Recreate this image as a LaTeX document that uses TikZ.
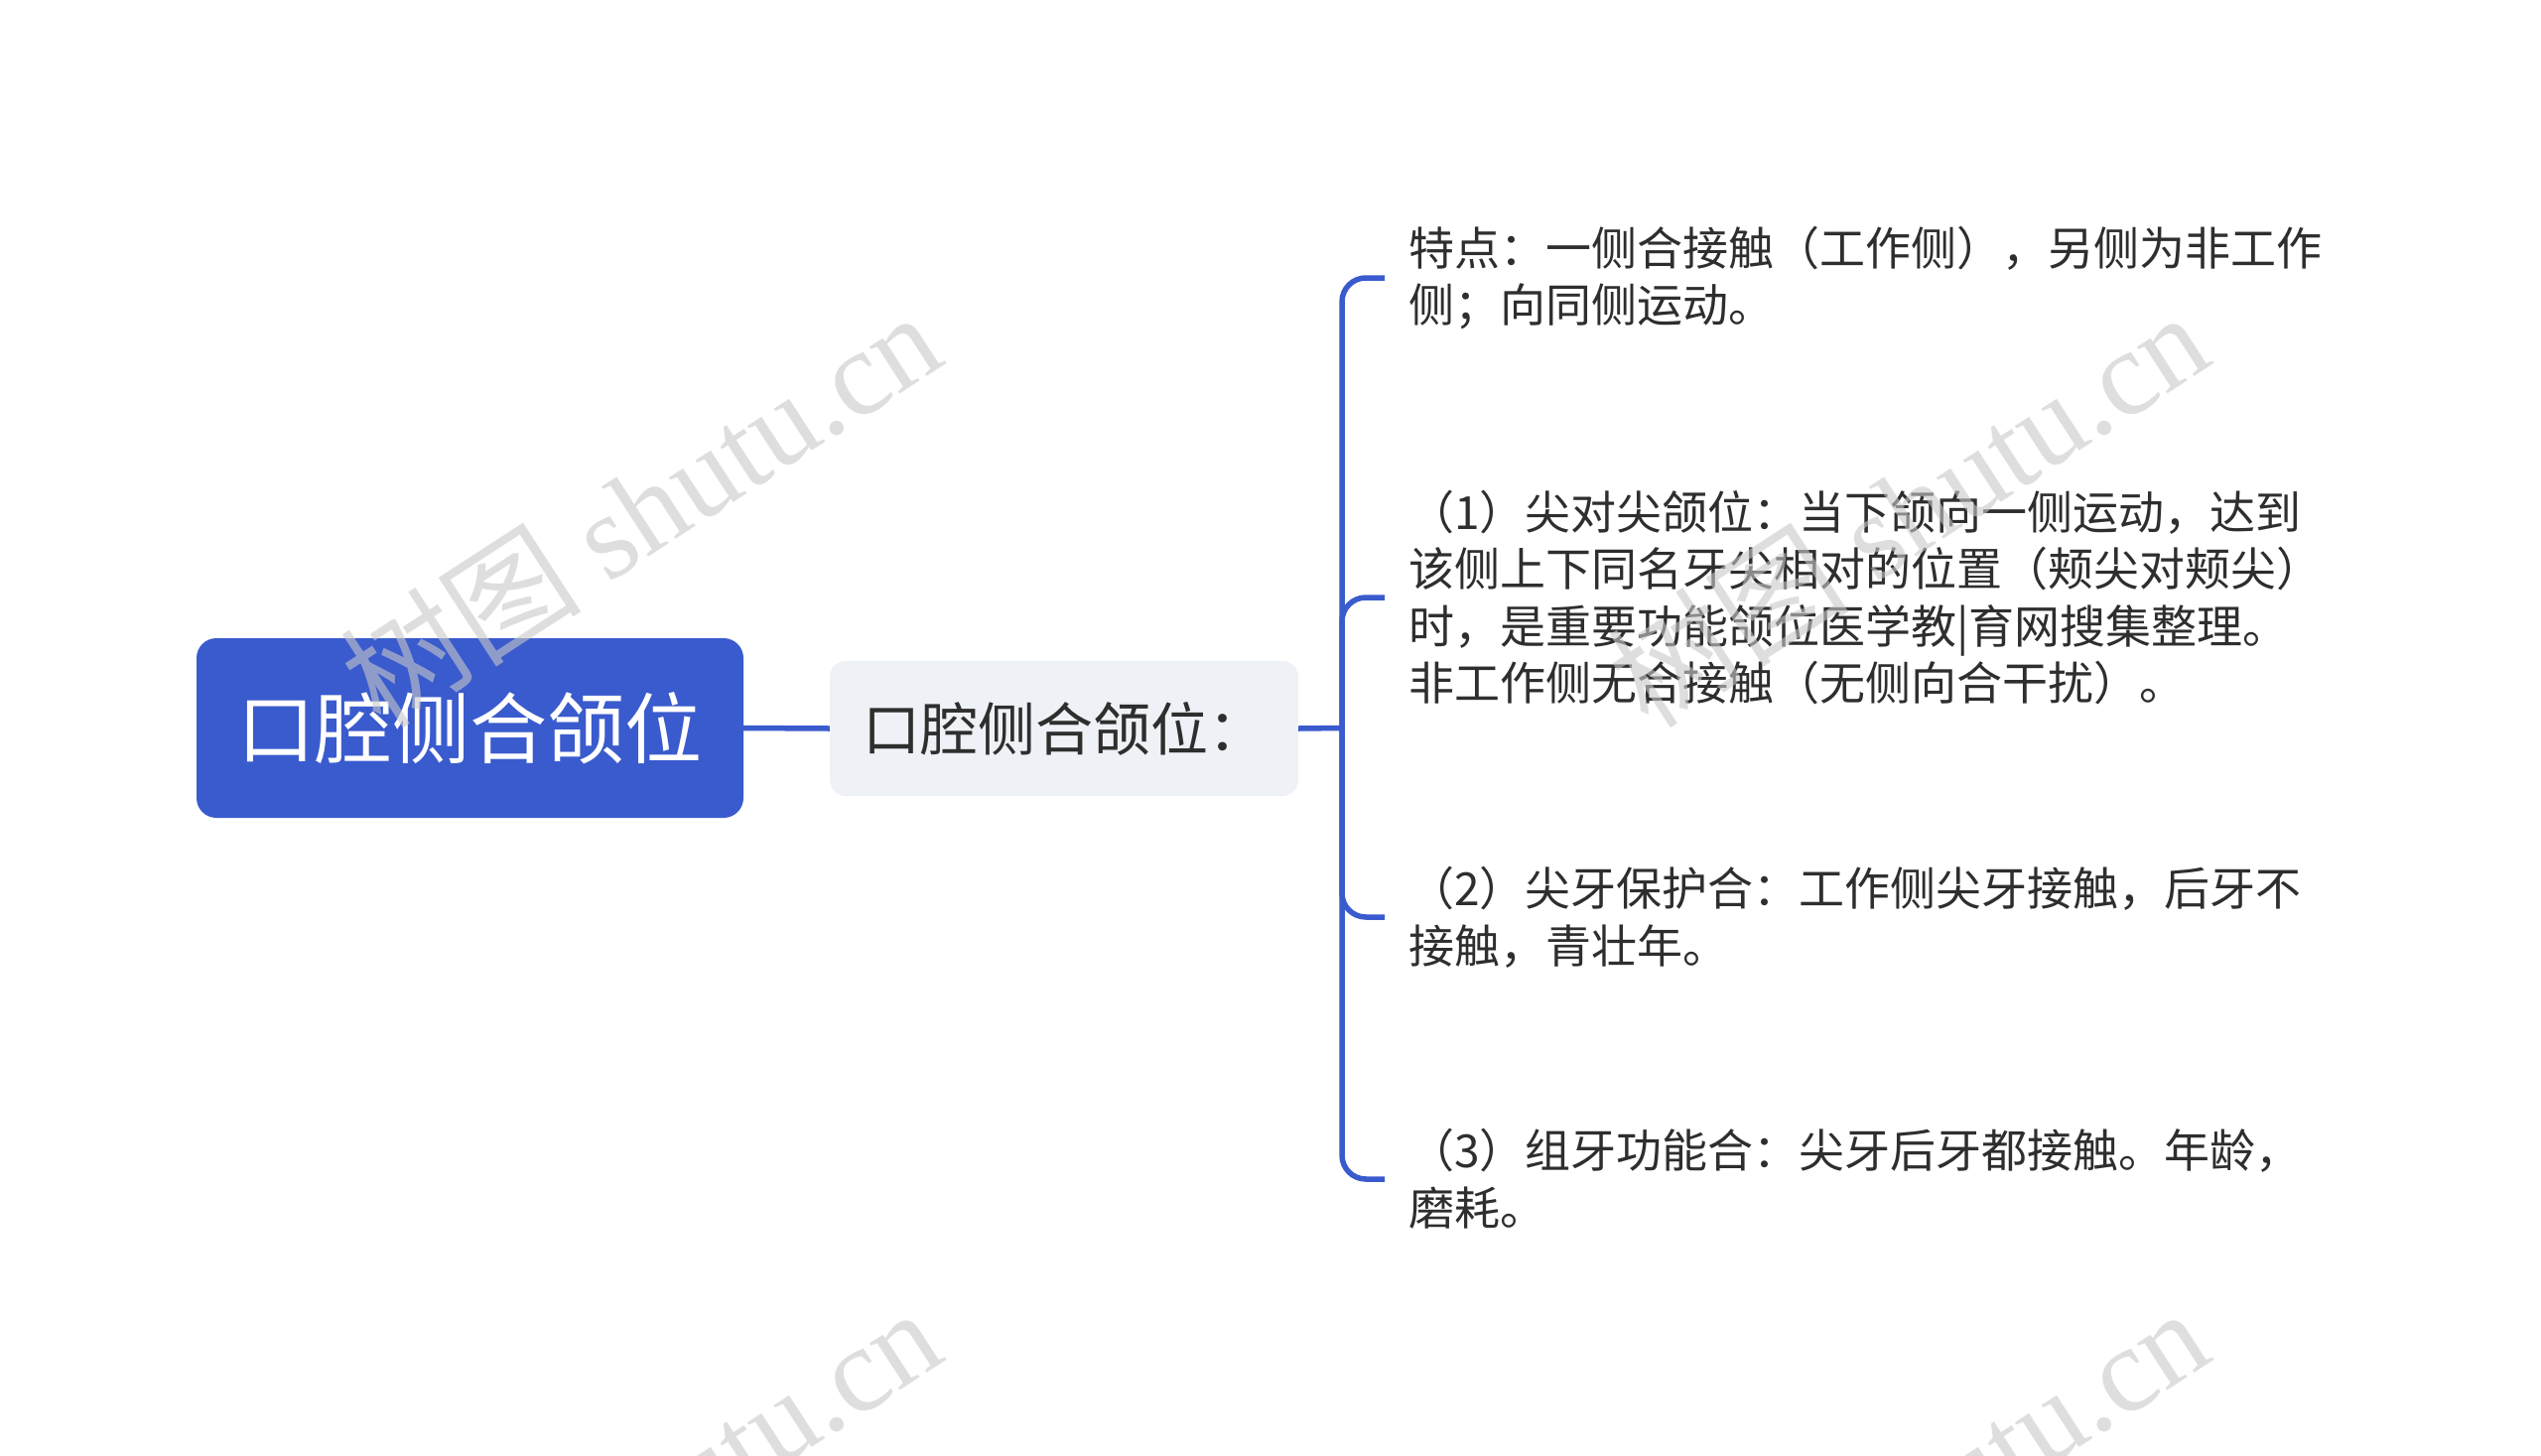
\documentclass[tikz,border=0pt]{standalone}
\usepackage{fontspec}
\setmainfont{Noto Sans CJK SC}
\newfontfamily\wmlatin{Liberation Serif}
\newfontfamily\wmcjk{Noto Sans CJK SC}
\definecolor{mainblue}{HTML}{3A5BCD}
\definecolor{subfill}{HTML}{EEF1F5}
\definecolor{txt}{HTML}{2E2E2E}
\definecolor{wm}{HTML}{C8C8C8}
\tikzset{
  rootbox/.style={fill=mainblue, rounded corners=20pt, text=white, inner sep=0pt,
    minimum width=551pt, minimum height=181pt, font=\fontsize{78pt}{94pt}\selectfont},
  subbox/.style={fill=subfill, rounded corners=16pt, text=txt, inner sep=0pt,
    minimum width=472pt, minimum height=136pt, font=\fontsize{58pt}{70pt}\selectfont},
  leaf/.style={anchor=west, inner xsep=24pt, inner ysep=0pt, align=left, text=txt,
    font=\fontsize{46pt}{57.6pt}\selectfont},
  conn/.style={draw=mainblue, line width=5.5pt},
  branch/.style={conn, rounded corners=24pt},
  wmark/.style={text=wm, opacity=0.6, rotate=33, inner sep=0pt,
    font=\fontsize{122pt}{130pt}\selectfont}
}
\begin{document}
\begin{tikzpicture}[x=1pt,y=-1pt]
\useasboundingbox (0,0) rectangle (2560,1467);
\fill[white] (0,0) rectangle (2560,1467);

\node[rootbox] (root) at (473.5,733.5) {口腔侧合颌位};
\node[subbox] (sub) at (1072,734) {口腔侧合颌位：};
\coordinate (j) at (1352,733.5);

\node[leaf] (c1) at (1395,280) {特点：一侧合接触（工作侧），另侧为非工作\\侧；向同侧运动。};
\node[leaf] (c2) at (1395,602) {（1）尖对尖颌位：当下颌向一侧运动，达到\\该侧上下同名牙尖相对的位置（颊尖对颊尖）\\时，是重要功能颌位医学教|育网搜集整理。\\非工作侧无合接触（无侧向合干扰）。};
\node[leaf] (c3) at (1395,924) {（2）尖牙保护合：工作侧尖牙接触，后牙不\\接触，青壮年。};
\node[leaf] (c4) at (1395,1188) {（3）组牙功能合：尖牙后牙都接触。年龄，\\磨耗。};

\draw[conn] (root.east) -- (sub.west);
\draw[conn] (sub.east) -- (j);
\draw[branch] (j) |- (c1.west);
\draw[branch] (j) |- (c2.west);
\draw[branch] (j) |- (c3.west);
\draw[branch] (j) |- (c4.west);

\begin{scope}
\clip (0,0) rectangle (2560,1467);
\node[wmark] (wm1) at (645,512) {{\wmcjk 树图} {\wmlatin shutu.cn}};
\node[wmark] (wm2) at (1922,512) {{\wmcjk 树图} {\wmlatin shutu.cn}};
\node[wmark] (wm3) at (645,1516) {{\wmcjk 树图} {\wmlatin shutu.cn}};
\node[wmark] (wm4) at (1922,1516) {{\wmcjk 树图} {\wmlatin shutu.cn}};
\end{scope}
\end{tikzpicture}
\end{document}
